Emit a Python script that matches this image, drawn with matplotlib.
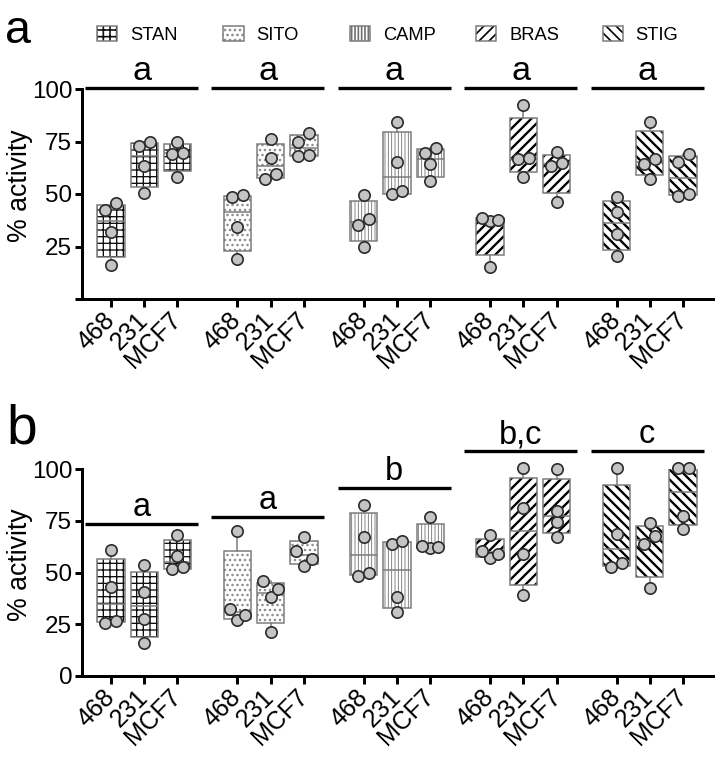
import numpy as np
import matplotlib
matplotlib.use('Agg')
import matplotlib.pyplot as plt
from matplotlib.patches import Patch, PathPatch
from matplotlib.transforms import blended_transform_factory

plt.rcParams['font.family'] = ['Liberation Sans', 'DejaVu Sans']

# ---------------- data ----------------
compounds = ['STAN', 'SITO', 'CAMP', 'BRAS', 'STIG']
cell_lines = ['468', '231', 'MCF7']

# panel a: % activity, replicates per cell line (468, 231, MCF7)
a_stan = [[16.0, 32.0, 42.5, 45.5], [50.3, 63.3, 72.9, 74.8], [58.2, 69.0, 69.7, 74.9]]
a_sito = [[19.0, 34.3, 48.4, 49.5], [57.1, 59.4, 67.1, 76.0], [68.1, 68.6, 74.9, 78.9]]
a_camp = [[24.9, 35.1, 37.9, 49.5], [49.8, 51.4, 65.1, 84.3], [56.4, 64.1, 69.7, 71.7]]
a_bras = [[15.2, 37.3, 37.6, 38.6], [58.2, 66.5, 67.3, 92.4], [46.3, 63.5, 64.9, 69.8]]
a_stig = [[20.5, 31.0, 41.3, 48.7], [57.3, 64.3, 66.5, 84.4], [49.0, 50.2, 65.2, 69.0]]

# panel b
b_stan = [[25.8, 26.6, 43.0, 60.9], [15.8, 27.5, 40.6, 53.6], [51.5, 52.5, 58.1, 68.1]]
b_sito = [[27.0, 29.5, 32.2, 70.0], [21.1, 38.3, 42.0, 45.9], [53.3, 56.5, 60.4, 67.0]]
b_camp = [[48.5, 49.6, 67.3, 82.6], [31.1, 38.3, 63.8, 65.2], [61.7, 62.5, 63.0, 76.7]]
b_bras = [[56.9, 58.9, 60.5, 68.1], [39.1, 58.8, 81.0, 100.3], [67.3, 74.3, 79.9, 100.0]]
b_stig = [[52.5, 54.4, 68.4, 100.3], [42.7, 63.8, 67.6, 73.8], [71.2, 77.4, 100.3, 100.3]]

# significance letters and the height of their bars (% activity)
a_letters = ['a', 'a', 'a', 'a', 'a']
a_bar_heights = [100.6, 100.6, 100.6, 100.6, 100.6]
b_letters = ['a', 'a', 'b', 'b,c', 'c']
b_bar_heights = [73.4, 77.0, 90.7, 108.7, 108.7]

panel_a = [a_stan, a_sito, a_camp, a_bras, a_stig]
panel_b = [b_stan, b_sito, b_camp, b_bras, b_stig]

# ---------------- styles ----------------
hatches = ['+++', '....', '||||||', '////', '\\\\\\\\']
hatch_colors = ['#111111', '#8a8a8a', '#707070', '#000000', '#000000']
hatch_lws = [0.8, 0.9, 0.5, 1.4, 1.4]
outline_col = '#7a7a7a'
GROUP_STEP = 3.8
BOX_W = 0.82

W, H, DPI = 723, 758, 120
fig = plt.figure(figsize=(W / DPI, H / DPI), dpi=DPI)


def fx(px):
    return px / W


def fy(py):
    return 1 - py / H


axA = fig.add_axes([fx(82), fy(299), fx(713) - fx(82), fy(89) - fy(299)])
axB = fig.add_axes([fx(82), fy(676), fx(713) - fx(82), fy(469) - fy(676)])


def jitter(vals):
    vals = np.asarray(vals, float)
    order = np.argsort(vals)
    v = vals[order]
    clusters = [[order[0]]]
    for k in range(1, len(v)):
        if v[k] - v[k - 1] < 4.5 and len(clusters[-1]) < 3:
            clusters[-1].append(order[k])
        else:
            clusters.append([order[k]])
    off = np.zeros(len(vals))
    for c in clusters:
        if len(c) == 2:
            off[c[0]] = -0.165
            off[c[1]] = 0.165
        elif len(c) == 3:
            off[c[2]] = -0.235
            off[c[0]] = 0.0
            off[c[1]] = 0.235
    return off


def set_hatch_lw(p, lw):
    if hasattr(p, 'set_hatch_linewidth'):
        p.set_hatch_linewidth(lw)


def draw_panel(ax, data, letters, bar_heights, letter_size, show_zero):
    positions, stats, styles = [], [], []
    for g, comp in enumerate(data):
        for i, pts in enumerate(comp):
            q1, med, q3 = np.percentile(pts, [25, 50, 75], method='weibull')
            stats.append(dict(med=med, q1=q1, q3=q3, whislo=min(pts), whishi=max(pts), fliers=[]))
            positions.append(g * GROUP_STEP + i)
            styles.append(g)
    bp = ax.bxp(stats, positions=positions, widths=BOX_W, patch_artist=True,
                showcaps=False, showfliers=False,
                boxprops=dict(facecolor='white', linewidth=0),
                whiskerprops=dict(color=outline_col, linewidth=0.9),
                medianprops=dict(color=outline_col, linewidth=0.9))
    for box, g in zip(bp['boxes'], styles):
        box.set_hatch(hatches[g])
        box.set_edgecolor(hatch_colors[g])
        box.set_linewidth(0)
        set_hatch_lw(box, hatch_lws[g])
        ax.add_patch(PathPatch(box.get_path(), facecolor='none', edgecolor=outline_col,
                               linewidth=0.9, zorder=2.05))
    # dots
    k = 0
    for g, comp in enumerate(data):
        for i, pts in enumerate(comp):
            off = jitter(pts)
            ax.plot(positions[k] + off, pts, 'o', ms=6.8, mfc='#c4c4c4', mec='#2b2b2b',
                    mew=1.0, zorder=4, clip_on=False)
            k += 1
    # significance bars
    for g, (lt, hgt) in enumerate(zip(letters, bar_heights)):
        x0 = g * GROUP_STEP - 0.78
        x1 = g * GROUP_STEP + 2.62
        ax.plot([x0, x1], [hgt, hgt], color='black', lw=2.0, clip_on=False,
                solid_capstyle='butt')
        ax.text((x0 + x1) / 2, hgt + 3.8, lt, ha='center', va='baseline',
                fontsize=letter_size, clip_on=False)

    ax.set_xlim(-0.87, 4 * GROUP_STEP + 2.9)
    ax.set_ylim(0, 100)
    ax.set_xticks(positions)
    ax.set_xticklabels(cell_lines * 5, rotation=45, ha='right', va='center',
                       rotation_mode='anchor', fontsize=15)
    ax.set_yticks([0, 25, 50, 75, 100])
    ax.set_yticklabels(['0' if show_zero else '', '25', '50', '75', '100'], fontsize=14.5)
    ax.set_ylabel('% activity', fontsize=16)
    ax.yaxis.set_label_coords(-0.078, 0.54)
    for s in ['top', 'right']:
        ax.spines[s].set_visible(False)
    for s in ['left', 'bottom']:
        ax.spines[s].set_linewidth(1.8)
    ax.tick_params(axis='both', width=1.8, length=4.5, pad=1.5)
    ax.tick_params(axis='x', pad=6)


draw_panel(axA, panel_a, a_letters, a_bar_heights, 20.5, False)
draw_panel(axB, panel_b, b_letters, b_bar_heights, 19.5, True)

# legend (one entry per compound, above its group)
trans = blended_transform_factory(axA.transData, fig.transFigure)
for g, name in enumerate(compounds):
    hp = Patch(facecolor='white', edgecolor=hatch_colors[g], linewidth=0, hatch=hatches[g])
    set_hatch_lw(hp, hatch_lws[g] * 0.8)
    op = Patch(facecolor='none', edgecolor=outline_col, linewidth=0.9)
    fig.legend(handles=[(hp, op)], labels=[name], loc='center left',
               bbox_to_anchor=(g * GROUP_STEP - 0.42, fy(35)), bbox_transform=trans,
               frameon=False, fontsize=11, handlelength=1.1, handleheight=0.9,
               handletextpad=0.7, borderpad=0, borderaxespad=0)

fig.text(fx(5), fy(43), 'a', fontsize=28, ha='left', va='baseline')
fig.text(fx(6), fy(443), 'b', fontsize=33, ha='left', va='baseline')

fig.savefig('out.png', dpi=DPI)
